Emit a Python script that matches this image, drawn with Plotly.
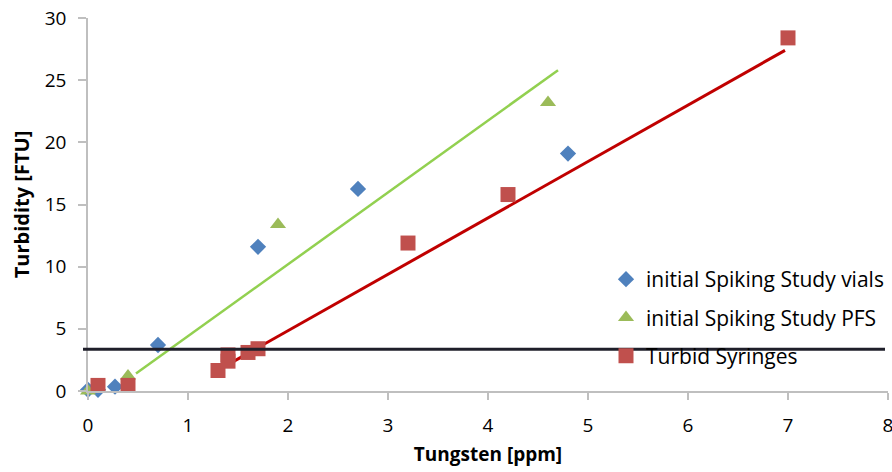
import plotly.graph_objects as go

# --- data ---
vials_x = [0.0, 0.1, 0.27, 0.7, 1.7, 2.7, 4.8]
vials_y = [0.1, 0.1, 0.35, 3.7, 11.6, 16.25, 19.1]

pfs_x = [0.0, 0.4, 1.9, 4.6]
pfs_y = [0.0, 1.2, 13.4, 23.2]

syr_x = [0.1, 0.4, 1.3, 1.4, 1.4, 1.6, 1.7, 3.2, 4.2, 7.0]
syr_y = [0.45, 0.45, 1.65, 2.4, 2.9, 3.1, 3.4, 11.9, 15.8, 28.4]

trend_pfs_x = [0.48, 4.7]
trend_pfs_y = [1.4, 25.8]

trend_syr_x = [1.24, 6.97]
trend_syr_y = [1.4, 27.4]

threshold_y = 3.35
threshold_x = [-0.05, 7.97]

x_ticks = [0, 1, 2, 3, 4, 5, 6, 7, 8]
y_ticks = [0, 5, 10, 15, 20, 25, 30]

FONT = "Open Sans"

fig = go.Figure()

fig.add_trace(go.Scatter(x=trend_pfs_x, y=trend_pfs_y, mode="lines",
                         line=dict(color="#92D050", width=2.5), showlegend=False, hoverinfo="skip"))
fig.add_trace(go.Scatter(x=trend_syr_x, y=trend_syr_y, mode="lines",
                         line=dict(color="#C00000", width=3), showlegend=False, hoverinfo="skip"))

fig.add_trace(go.Scatter(x=vials_x, y=vials_y, mode="markers", name="initial Spiking Study vials",
                         legendgroup="a",
                         marker=dict(symbol="diamond", size=12.5, color="#4F81BD", line=dict(width=0)),
                         cliponaxis=False))
fig.add_trace(go.Scatter(x=pfs_x, y=pfs_y, mode="markers", name="initial Spiking Study PFS",
                         legendgroup="b",
                         marker=dict(symbol="triangle-up", size=14, color="#9BBB59", line=dict(width=0)),
                         cliponaxis=False))
fig.add_trace(go.Scatter(x=syr_x, y=syr_y, mode="markers", name="Turbid Syringes",
                         legendgroup="c",
                         marker=dict(symbol="square", size=15, color="#C0504D", line=dict(width=0)),
                         cliponaxis=False))

# threshold line (extends slightly past the plot edges, so paper-referenced in x)
fig.add_shape(type="line", xref="paper", yref="y",
              x0=threshold_x[0] / 8.0, x1=threshold_x[1] / 8.0, y0=threshold_y, y1=threshold_y,
              line=dict(color="#1F1F2A", width=3), layer="above")

axis_common = dict(showgrid=False, zeroline=False, showline=True, linecolor="#BFBFBF", linewidth=1.5,
                   ticks="outside", tickcolor="#BFBFBF", tickwidth=1.5, automargin=False,
                   ticklabeloverflow="allow",
                   tickfont=dict(family=FONT, size=19, color="#000000"))

fig.update_xaxes(range=[0, 8], tickvals=x_ticks, ticklen=7, ticklabelstandoff=9,
                 title=dict(text="<b>Tungsten [ppm]</b>", font=dict(family=FONT, size=19, color="#000000"), standoff=11),
                 **axis_common)
fig.update_yaxes(range=[0, 30], tickvals=y_ticks, ticklen=8, ticklabelstandoff=8,
                 title=dict(text="<b>Turbidity [FTU]</b>", font=dict(family=FONT, size=20, color="#000000"), standoff=10),
                 **axis_common)

fig.update_layout(
    width=892, height=472,
    margin=dict(l=88, r=4, t=18, b=81, autoexpand=False),
    plot_bgcolor="white", paper_bgcolor="white",
    legend=dict(x=(606 - 88) / 800.0, xanchor="left", y=(391 - 259) / 373.0, yanchor="top",
                font=dict(family=FONT, size=21, color="#000000"), bgcolor="rgba(0,0,0,0)",
                traceorder="grouped", tracegroupgap=8),
    showlegend=True,
)

fig.write_html("out.html")
